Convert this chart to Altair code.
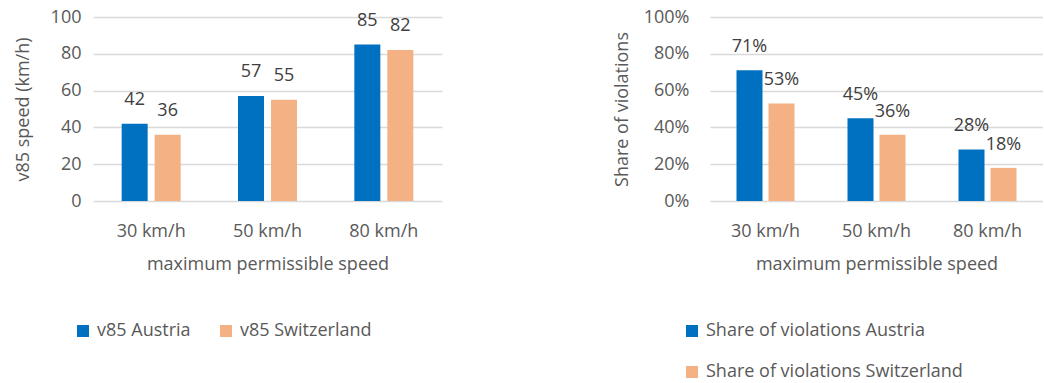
import altair as alt
import pandas as pd

categories = ["30 km/h", "50 km/h", "80 km/h"]
v85_austria = [42, 57, 85]
v85_switzerland = [36, 55, 82]
viol_austria = [0.71, 0.45, 0.28]
viol_switzerland = [0.53, 0.36, 0.18]

series_left = ["v85 Austria", "v85 Switzerland"]
series_right = ["Share of violations Austria", "Share of violations Switzerland"]
colors = ["#0070C0", "#F4B183"]

FONT = "Open Sans"
FS = 18
AX = "#595959"
LBL = "#404040"

df1 = pd.DataFrame(
    [{"speed": c, "series": series_left[0], "value": v} for c, v in zip(categories, v85_austria)]
    + [{"speed": c, "series": series_left[1], "value": v} for c, v in zip(categories, v85_switzerland)]
)
df2 = pd.DataFrame(
    [{"speed": c, "series": series_right[0], "value": v} for c, v in zip(categories, viol_austria)]
    + [{"speed": c, "series": series_right[1], "value": v} for c, v in zip(categories, viol_switzerland)]
)


def xaxis():
    return alt.Axis(title="maximum permissible speed", labelAngle=0, domain=False, ticks=False,
                    labelPadding=21, titlePadding=15)


def panel(df, series, yaxis, ydomain, legend, text_fmt, off, dy, width):
    base = alt.Chart(df).encode(
        x=alt.X("speed:N", sort=categories, scale=alt.Scale(type="band", paddingInner=0.5, paddingOuter=0.25),
                axis=xaxis()),
        y=alt.Y("value:Q", scale=alt.Scale(domain=ydomain), axis=yaxis),
    )
    col = alt.Color("series:N", sort=series, scale=alt.Scale(domain=series, range=colors), legend=legend)
    layers = []
    for s, o in zip(series, [-off, off]):
        sub = base.transform_filter(alt.datum.series == s)
        layers.append(sub.mark_bar(width=26, xOffset=o).encode(color=col))
        layers.append(sub.mark_text(baseline="middle", dx=o, dy=dy, fontSize=FS, font=FONT, color=LBL)
                      .encode(text=alt.Text("value:Q", format=text_fmt)))
    return alt.layer(*layers).properties(width=width, height=184)


left = panel(
    df1, series_left,
    alt.Axis(values=[0, 20, 40, 60, 80, 100], title="v85 speed (km/h)", domain=False, ticks=False,
             labelPadding=12, titlePadding=18),
    [0, 100],
    alt.Legend(orient="none", legendX=-19, legendY=305, direction="horizontal", title=None, columnPadding=26),
    "d", 16.5, -24, 349,
)
right = panel(
    df2, series_right,
    alt.Axis(values=[0, 0.2, 0.4, 0.6, 0.8, 1.0], format=".0%", title="Share of violations",
             domain=False, ticks=False, labelPadding=21, titlePadding=12),
    [0, 1],
    alt.Legend(orient="none", legendX=-27, legendY=305, direction="vertical", title=None, rowPadding=23),
    ".0%", 16, -23, 333,
)

chart = (
    alt.hconcat(left, right, spacing=171)
    .resolve_scale(color="independent")
    .properties(padding={"left": 14, "top": 8, "right": 0, "bottom": 0})
    .configure_view(stroke=None)
    .configure_axis(labelFont=FONT, titleFont=FONT, labelFontSize=FS, titleFontSize=FS,
                    labelColor=AX, titleColor=AX, titleFontWeight="normal",
                    gridColor="#D9D9D9", gridWidth=1.5)
    .configure_legend(labelFont=FONT, labelFontSize=FS, labelColor=AX, symbolType="square",
                      symbolSize=144, symbolStrokeWidth=0, labelOffset=5, labelLimit=400)
)

chart.save("out.html", embed_options={"renderer": "svg", "actions": False})
